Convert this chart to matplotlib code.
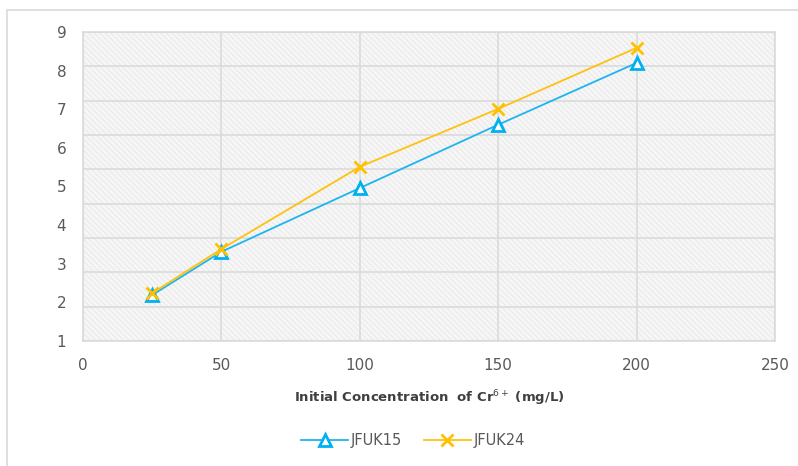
import numpy as np
import matplotlib
matplotlib.use('Agg')
from matplotlib import pyplot as plt
from matplotlib.patches import Rectangle

# data
conc = [25, 50, 100, 150, 200]
jfuk15 = [2.19, 3.31, 4.96, 6.60, 8.20]
jfuk24 = [2.24, 3.38, 5.51, 7.01, 8.59]
x_ticks = [0, 50, 100, 150, 200, 250]
y_ticks = [1, 2, 3, 4, 5, 6, 7, 8, 9]

blue = '#1cb5ef'
gold = '#ffc10e'
grid_col = '#d9d9d9'
text_col = '#595959'

plt.rcParams['font.family'] = ['DejaVu Sans']
plt.rcParams['hatch.linewidth'] = 0.5
plt.rcParams['hatch.color'] = '#e2e2e2'

fig = plt.figure(figsize=(7.98, 4.66), dpi=100)
# chart frame (cut off at right and bottom in the reference)
fig.patches.append(Rectangle((7 / 798, -0.1), 1.2, 1 - 10 / 466 + 0.1,
                             transform=fig.transFigure, fill=False,
                             edgecolor='#d9d9d9', linewidth=1.2))

ax = fig.add_axes([83 / 798, 1 - 341 / 466, (775 - 83) / 798, (341 - 32) / 466])
ax.set_xlim(0, 250)
ax.set_ylim(1, 9)

# patterned plot area
ax.add_patch(Rectangle((0, 0), 1, 1, transform=ax.transAxes, facecolor='#f6f6f6',
                       hatch='\\\\\\\\\\\\', edgecolor='#e4e4e4', linewidth=0, zorder=0))

# gridlines: 10 evenly spaced lines, labels 1..9 across the same span
grid_y = np.linspace(1, 9, 10)
for g in grid_y:
    ax.axhline(g, color=grid_col, linewidth=1.1, zorder=1)
for xv in x_ticks:
    ax.axvline(xv, color=grid_col, linewidth=1.1, zorder=1)

ax.plot(conc, jfuk15, color=blue, linewidth=1.3, marker='^', markersize=8,
        markerfacecolor='white', markeredgecolor='#00b0f0', markeredgewidth=2,
        label='JFUK15', zorder=3)
ax.plot(conc, jfuk24, color=gold, linewidth=1.3, marker='x', markersize=8,
        markeredgecolor='#ffc000', markeredgewidth=2, label='JFUK24', zorder=4)

ax.set_xticks(x_ticks)
ax.set_yticks(y_ticks)
ax.tick_params(length=0, labelsize=11, labelcolor=text_col)
ax.tick_params(axis='x', pad=12)
ax.tick_params(axis='y', pad=12)
for s in ax.spines.values():
    s.set_color(grid_col)
    s.set_linewidth(1.1)

ax.set_xlabel('Initial Concentration  of Cr$^{6+}$ (mg/L)', fontsize=9.5,
              fontweight='bold', color='#404040', labelpad=11)

fig.legend(loc='center', bbox_to_anchor=(413 / 798, 1 - 441 / 466), ncol=2,
           frameon=False, fontsize=10.5, labelcolor=text_col, handlelength=3.2,
           handletextpad=0.2, columnspacing=1.5)

fig.savefig('out.png', dpi=100)
